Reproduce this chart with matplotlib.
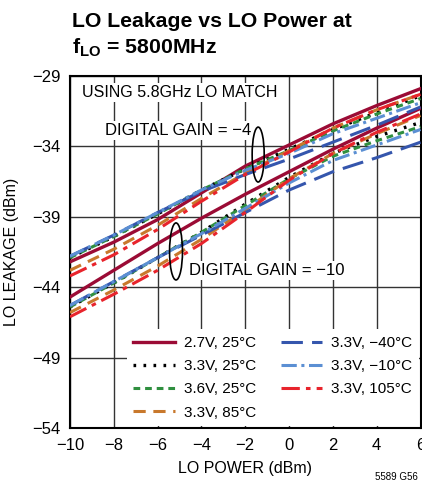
import matplotlib
matplotlib.use('Agg')
import matplotlib.pyplot as plt
from matplotlib.patches import Ellipse

# --- dados ---
lo_power = [-10, -8, -6, -4, -2, 0, 2, 4, 6]

rotulos = ['2.7V, 25°C', '3.3V, 25°C', '3.6V, 25°C', '3.3V, 85°C',
           '3.3V, −40°C', '3.3V, −10°C', '3.3V, 105°C']

# DIGITAL GAIN = -4
ganho4 = [
    [-42.2, -40.8, -39.2, -37.3, -35.4, -33.9, -32.4, -31.1, -29.9],
    [-41.9, -40.4, -38.8, -37.1, -35.6, -34.2, -32.8, -31.6, -30.4],
    [-41.9, -40.4, -38.8, -37.1, -35.6, -34.3, -32.9, -31.7, -30.6],
    [-42.8, -41.3, -39.6, -37.7, -35.9, -34.3, -32.7, -31.4, -30.3],
    [-41.8, -40.3, -38.7, -37.2, -36.0, -34.9, -33.7, -32.5, -31.2],
    [-41.8, -40.3, -38.7, -37.1, -35.7, -34.5, -33.1, -32.0, -30.9],
    [-43.2, -41.7, -39.9, -37.9, -36.0, -34.4, -32.7, -31.4, -30.3],
]

# DIGITAL GAIN = -10
ganho10 = [
    [-44.7, -42.8, -40.9, -39.1, -37.4, -35.8, -34.2, -32.7, -31.3],
    [-45.4, -43.7, -41.9, -40.1, -38.1, -36.2, -34.5, -33.3, -32.3],
    [-45.4, -43.7, -41.9, -40.1, -38.2, -36.3, -34.7, -33.6, -32.6],
    [-45.8, -44.2, -42.5, -40.6, -38.5, -36.3, -34.5, -33.1, -31.8],
    [-45.3, -43.6, -41.9, -40.3, -38.7, -37.1, -35.8, -34.8, -33.7],
    [-45.3, -43.6, -41.9, -40.2, -38.4, -36.6, -35.0, -33.9, -32.8],
    [-46.1, -44.5, -42.8, -40.9, -38.7, -36.4, -34.5, -33.0, -31.7],
]

x_ticks = [-10, -8, -6, -4, -2, 0, 2, 4, 6]
y_ticks = [-29, -34, -39, -44, -49, -54]

cores = ['#9b0b35', '#000000', '#2f8f3f', '#c8782c', '#3556ad', '#5b8fd3', '#e8242c']
estilos = ['-', (0, (0.8, 2.2)), (0, (2.2, 1.6)), (0, (4, 2.5)),
           (0, (7, 3)), (0, (5, 1.5, 1, 1.5)), (0, (6, 2, 1.5, 2))]
larguras = [2.4, 2.4, 2.2, 2.2, 2.2, 2.2, 2.2]

plt.rcParams['font.family'] = ['Liberation Sans', 'DejaVu Sans']
plt.rcParams['mathtext.fontset'] = 'custom'
plt.rcParams['mathtext.rm'] = 'Liberation Sans:bold'

fig = plt.figure(figsize=(4.22, 4.97), dpi=100)
ax = fig.add_axes([70 / 422, 69 / 497, 350.5 / 422, 352 / 497])

for i in range(len(rotulos)):
    ax.plot(lo_power, ganho4[i], color=cores[i], linestyle=estilos[i],
            linewidth=larguras[i], label=rotulos[i], zorder=3)
    ax.plot(lo_power, ganho10[i], color=cores[i], linestyle=estilos[i],
            linewidth=larguras[i], zorder=3)

ax.set_xlim(-10, 6)
ax.set_ylim(-54, -29)
ax.set_xticks(x_ticks)
ax.set_yticks(y_ticks)
ax.tick_params(length=0, labelsize=12, pad=7)
ax.grid(True, color='#333333', linewidth=1.0)
ax.set_axisbelow(True)
for s in ax.spines.values():
    s.set_linewidth(1.5)

ax.set_xlabel('LO POWER (dBm)', fontsize=11.5, labelpad=6)
ax.set_ylabel('LO LEAKAGE (dBm)', fontsize=11.5, labelpad=9)

bbox_branco = dict(facecolor='white', edgecolor='none', pad=1.5)
ax.text(-9.47, -30.18, 'USING 5.8GHz LO MATCH', fontsize=11.5, va='center',
        ha='left', bbox=bbox_branco, zorder=4)
ax.text(-8.41, -32.84, 'DIGITAL GAIN = −4', fontsize=12, va='center',
        ha='left', bbox=bbox_branco, zorder=4)
ax.text(-4.59, -42.78, 'DIGITAL GAIN = −10', fontsize=12, va='center',
        ha='left', bbox=bbox_branco, zorder=4)

ax.add_patch(Ellipse((-1.41, -34.58), 0.55, 3.9, fill=False,
                     edgecolor='black', linewidth=1.2, zorder=5))
ax.add_patch(Ellipse((-5.16, -41.46), 0.59, 4.05, fill=False,
                     edgecolor='black', linewidth=1.2, zorder=5))

leg = ax.legend(ncol=2, loc='lower right', fontsize=11, frameon=True,
                fancybox=False, handlelength=2.7, handletextpad=0.6,
                columnspacing=1.6, labelspacing=0.6,
                borderaxespad=0.1, borderpad=0.45)
leg.get_frame().set_edgecolor('none')
leg.get_frame().set_facecolor('white')
leg.get_frame().set_alpha(1)
leg.set_zorder(6)

fig.text(72 / 422, 1 - 27 / 497, 'LO Leakage vs LO Power at', fontsize=15.3,
         fontweight='bold', ha='left', va='baseline')
fig.text(72 / 422, 1 - 53 / 497, r'f$_\mathregular{LO}$ = 5800MHz', fontsize=15.3,
         fontweight='bold', ha='left', va='baseline')
fig.text(418 / 422, 1 - 480 / 497, '5589 G56', fontsize=7, ha='right',
         va='baseline')

fig.savefig('out.png', dpi=100)
